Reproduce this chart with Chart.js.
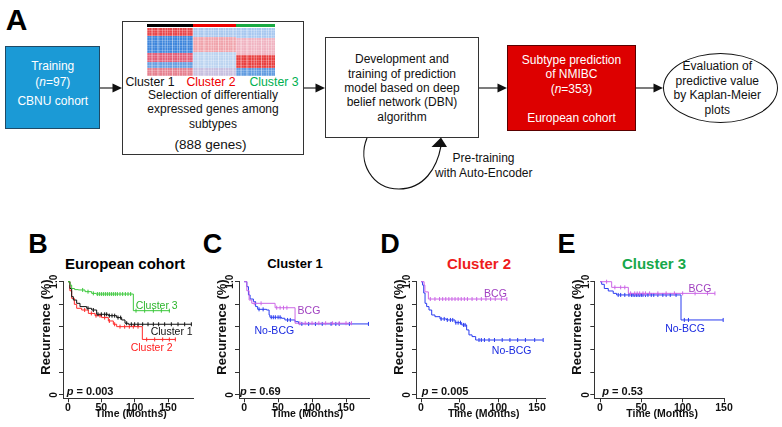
<!DOCTYPE html>
<html><head><meta charset="utf-8">
<script src="https://cdn.jsdelivr.net/npm/chart.js@4.4.1/dist/chart.umd.min.js"></script>
<style>
html,body{margin:0;padding:0;background:#fff}
#page{position:relative;width:782px;height:427px;overflow:hidden;font-family:"Liberation Sans",Arial,Helvetica,sans-serif;color:#111}
.t{position:absolute;white-space:nowrap;line-height:1;transform:translate(-50%,-50%)}
.tl{position:absolute;white-space:nowrap;line-height:1;transform:translate(0,-50%)}
.box{position:absolute;box-sizing:border-box}
canvas{position:absolute}
#svg{position:absolute;left:0;top:0}
</style></head><body><div id="page">
<div class="box" style="left:5px;top:46px;width:95px;height:83px;background:#1b9ad6;border:1px solid #1f4a66"></div>
<div class="box" style="left:122px;top:21px;width:182px;height:134px;border:1px solid #333;background:#fff"></div>
<div class="box" style="left:325px;top:37px;width:154px;height:101px;border:1px solid #333;background:#fff"></div>
<div class="box" style="left:507px;top:45px;width:129px;height:86px;background:#dd0000;border:1px solid #5a0000"></div>
<div class="box" style="left:663px;top:53px;width:115px;height:70px;border:1.5px solid #111;border-radius:50%;background:#fff"></div>
<svg id="svg" width="782" height="427"></svg>
<canvas id="cB"></canvas><canvas id="cC"></canvas><canvas id="cD"></canvas><canvas id="cE"></canvas>
</div>
<script>
const FONT = '"Liberation Sans", Arial, Helvetica, sans-serif';

// ---- shared axis definitions ----
const xTicks = [0, 50, 100, 150];
const yTicks = [0, 0.2, 0.4, 0.6, 0.8, 1.0];
const yLabelVals = [0, 1.0];
const yLabelText = ['0', '1.0'];
const yTitle = 'Recurrence (%)';
const xTitle = 'Time (Months)';

// ---- Panel B: European cohort ----
const bC1Time = [0, 2.8, 5.5, 8, 13, 18, 28, 35.5, 43, 60.5, 73, 80.5, 85.5, 90.5, 185.5];
const bC1Surv = [1, 0.94, 0.868, 0.838, 0.809, 0.78, 0.765, 0.75, 0.712, 0.70, 0.683, 0.662, 0.633, 0.624, 0.624];
const bC1Cens = [30, 38, 45, 50, 55, 58, 62, 66, 70, 75, 79, 88, 95, 100, 105, 112, 120, 128, 136, 145, 155, 165, 175, 185];
const bC2Time = [0, 2.8, 5.5, 9.5, 13, 20.5, 30.5, 40.5, 50.5, 60.5, 68, 73, 111.5, 161.5];
const bC2Surv = [1, 0.92, 0.853, 0.80, 0.765, 0.75, 0.72, 0.70, 0.683, 0.653, 0.624, 0.603, 0.49, 0.49];
const bC2Cens = [25, 35, 42, 48, 55, 62, 70, 78, 85, 92, 98, 105, 118, 130, 142, 152, 161];
const bC3Time = [0, 3, 5.5, 10, 15.5, 25.5, 35.5, 42, 98, 153];
const bC3Surv = [1, 0.97, 0.94, 0.93, 0.927, 0.912, 0.897, 0.891, 0.744, 0.744];
const bC3Cens = [22, 30, 38, 44, 47, 50, 53, 56, 59, 62, 65, 68, 71, 74, 78, 82, 86, 90, 94, 102, 115, 128, 140, 152];

// ---- Panel C: Cluster 1 ----
const cNoTime = [0, 4, 6.4, 8.8, 13.7, 17, 20, 33, 36.8, 38, 55, 60, 75, 80, 183];
const cNoSurv = [1, 0.956, 0.883, 0.847, 0.824, 0.78, 0.756, 0.75, 0.706, 0.686, 0.677, 0.662, 0.647, 0.627, 0.627];
const cNoCens = [22, 28, 40, 43, 46, 50, 53, 64, 68, 85, 95, 105, 115, 128, 135, 140, 155, 183];
const cBcgTime = [0, 4, 7.4, 11.3, 45.6, 75, 158];
const cBcgSurv = [1, 0.92, 0.838, 0.809, 0.77, 0.633, 0.633];
const cBcgCens = [15, 25, 48, 53, 58, 63, 82, 90, 100, 110, 120, 130, 140, 150, 158];

// ---- Panel D: Cluster 2 ----
const dNoTime = [0, 2, 3.5, 5.2, 7.3, 10.3, 13.8, 18, 24.6, 33, 44, 52.6, 59, 62, 66, 70.7, 158];
const dNoSurv = [1, 0.97, 0.9, 0.809, 0.78, 0.75, 0.706, 0.691, 0.671, 0.662, 0.638, 0.618, 0.574, 0.53, 0.515, 0.485, 0.485];
const dNoCens = [26, 30, 34, 38, 41, 45, 48, 51, 55, 57, 75, 78, 82, 88, 95, 105, 115, 125, 135, 147, 158];
const dBcgTime = [0, 4, 5, 9.5, 111];
const dBcgSurv = [1, 0.97, 0.91, 0.847, 0.847];
const dBcgCens = [12, 18, 24, 28, 32, 36, 40, 44, 48, 52, 56, 60, 66, 72, 78, 84, 90, 96, 104, 111];

// ---- Panel E: Cluster 3 ----
const eNoTime = [0, 2, 5.2, 10, 16, 20, 98, 149];
const eNoSurv = [1, 0.977, 0.94, 0.918, 0.897, 0.883, 0.662, 0.662];
const eNoCens = [22, 25, 30, 35, 38, 40, 42, 44, 46, 48, 50, 52, 55, 58, 62, 65, 70, 76, 80, 85, 92, 102, 107, 149];
const eBcgTime = [0, 14.1, 34.3, 139];
const eBcgSurv = [1, 0.95, 0.897, 0.897];
const eBcgCens = [8, 18, 25, 30, 37, 42, 45, 48, 52, 55, 60, 70, 80, 90, 100, 115, 130, 139];

// ---------------- helpers ----------------
const page = document.getElementById('page');
function T(x, y, html, css, left) {
  const d = document.createElement('div');
  d.className = left ? 'tl' : 't';
  d.style.left = x + 'px'; d.style.top = y + 'px';
  d.style.cssText += css || '';
  d.innerHTML = html;
  page.appendChild(d);
}
function kmPoints(t, s) { return t.map((x, i) => ({x: x, y: s[i]})); }
function survAt(t, s, c) { let v = s[0]; for (let i = 0; i < t.length; i++) if (t[i] <= c) v = s[i]; return v; }
function censPoints(t, s, c) { return c.map(x => ({x: x, y: survAt(t, s, x)})); }

// ---------------- diagram ----------------
const wht = 'color:#fff;font-size:12px;';
const blk = 'font-size:12px;color:#111;';
T(16.5, 19.5, 'A', 'font-size:30px;font-weight:bold;color:#000;');
T(52.8, 66, 'Training', wht);
T(52.8, 81.5, '(<i>n</i>=97)', wht);
T(52.8, 101, 'CBNU cohort', wht);

// heatmap thumbnail (decorative)
(function () {
  const tex = 'repeating-linear-gradient(90deg, rgba(255,255,255,.30) 0 1px, rgba(255,255,255,0) 1px 2px, rgba(255,255,255,.12) 2px 3px, rgba(255,255,255,0) 3px 5px),' +
              'repeating-linear-gradient(90deg, rgba(255,255,255,0) 0 4px, rgba(255,255,255,.25) 4px 5px, rgba(255,255,255,0) 5px 7px),' +
              'repeating-linear-gradient(0deg, rgba(255,255,255,.22) 0 1px, rgba(255,255,255,0) 1px 3px, rgba(255,255,255,.12) 3px 4px, rgba(255,255,255,0) 4px 5px),';
  const blocks = [
    [146.7, 46, '#000', 'linear-gradient(180deg,#e8464a 0 8px,#3f86dc 8px 25px,#e2607a 25px 34px,#6aa0e0 34px 40px,#e6808e 40px 48px)'],
    [193, 42.5, '#e00', 'linear-gradient(180deg,#a9c8ee 0 9px,#f0a4ac 9px 24px,#bcd4f0 24px 40px,#c8c0e0 40px 48px)'],
    [235.5, 39.5, '#1aaa44', 'linear-gradient(180deg,#a8c8f0 0 10px,#f0b4c2 10px 27px,#e84040 27px 40px,#629ce0 40px 48px)']
  ];
  blocks.forEach(b => {
    const bar = document.createElement('div');
    bar.className = 'box';
    bar.style.cssText += 'left:' + b[0] + 'px;top:24px;width:' + b[1] + 'px;height:2.6px;background:' + b[2];
    page.appendChild(bar);
    const hm = document.createElement('div');
    hm.className = 'box';
    hm.style.cssText += 'left:' + b[0] + 'px;top:27.7px;width:' + b[1] + 'px;height:48.3px;background:' + tex + b[3];
    page.appendChild(hm);
  });
})();
T(150, 82, 'Cluster 1', 'font-size:12.3px;color:#111;');
T(211, 82, 'Cluster 2', 'font-size:12.3px;color:#ee0000;');
T(274, 82, 'Cluster 3', 'font-size:12.3px;color:#00b050;');
T(213, 95.3, 'Selection of differentially', blk);
T(213, 109.3, 'expressed genes among', blk);
T(213, 123.5, 'subtypes', blk);
T(210.5, 144.5, '(888 genes)', 'font-size:13.5px;color:#111;');

T(402, 59, 'Development and', blk);
T(402, 73.5, 'training of prediction', blk);
T(402, 87.8, 'model based on deep', blk);
T(402, 102, 'belief network (DBN)', blk);
T(402, 116.8, 'algorithm', blk);

T(571.5, 59.5, 'Subtype prediction', wht);
T(571.5, 73.8, 'of NMIBC', wht);
T(571.5, 88.5, '(<i>n</i>=353)', wht);
T(571.5, 117.5, 'European cohort', wht);

T(717.3, 66, 'Evaluation of', blk);
T(717.3, 80.5, 'predictive value', blk);
T(717.3, 95, 'by Kaplan-Meier', blk);
T(717.3, 109.5, 'plots', blk);

T(483.5, 157.8, 'Pre-training', blk);
T(483.8, 172.5, 'with Auto-Encoder', blk);

(function () {
  const svg = document.getElementById('svg');
  const arrows = [[100, 122], [304, 325], [479, 507], [636, 663]];
  let s = '';
  arrows.forEach(a => {
    s += '<line x1="' + a[0] + '" y1="88" x2="' + (a[1] - 8) + '" y2="88" stroke="#111" stroke-width="1.1"/>';
    s += '<polygon points="' + a[1] + ',88 ' + (a[1] - 9.5) + ',83.5 ' + (a[1] - 9.5) + ',92.5" fill="#111"/>';
  });
  s += '<path d="M367,138 C357,162 372,189 399,189 C424,189 437,168 441,146" fill="none" stroke="#111" stroke-width="1.2"/>';
  s += '<polygon points="441,137.5 431.5,147 447,147" fill="#111"/>';
  svg.innerHTML = s;
})();

// ---------------- KM panels ----------------
const GREEN = '#3cc83c', RED = '#ff2a2a', BLACK = '#111', BLUE = '#2a3cf0', VIOLET = '#cc66e6';

const axisText = {
  id: 'axisText',
  afterDraw(chart, args, o) {
    const ctx = chart.ctx, ca = chart.chartArea, y = chart.scales.y;
    ctx.save();
    ctx.textAlign = 'center';
    ctx.textBaseline = 'middle';
    ctx.fillStyle = '#111';
    ctx.font = 'bold 10px ' + FONT;
    for (let i = 0; i < yLabelVals.length; i++) {
      const py = y.getPixelForValue(yLabelVals[i]);
      ctx.save();
      ctx.translate(ca.left - 8.5, py);
      ctx.rotate(-Math.PI / 2);
      ctx.fillText(yLabelText[i], 0, 0);
      ctx.restore();
    }
    ctx.font = 'bold 13px ' + FONT;
    ctx.save();
    ctx.translate(ca.left - 17, o.yTitleY);
    ctx.rotate(-Math.PI / 2);
    ctx.fillText(yTitle, 0, 0);
    ctx.restore();
    ctx.font = 'bold 10.5px ' + FONT;
    ctx.fillText(xTitle, (ca.left + ca.right) / 2 + 3, o.xTitleY);
    ctx.restore();
  }
};

function km(id, rect, plot, xMin, xMax, series) {
  const cv = document.getElementById(id);
  cv.style.left = rect.l + 'px'; cv.style.top = rect.t + 'px';
  cv.width = rect.w; cv.height = rect.h;
  cv.style.width = rect.w + 'px'; cv.style.height = rect.h + 'px';
  const ds = [];
  series.forEach(s => {
    ds.push({type: 'line', data: kmPoints(s.t, s.s), borderColor: s.color, borderWidth: 1, pointRadius: 0,
             stepped: 'before', fill: false, clip: false, tension: 0});
    ds.push({type: 'scatter', data: censPoints(s.t, s.s, s.c), borderColor: s.color, backgroundColor: s.color,
             pointStyle: 'line', rotation: 90, pointRadius: 2, borderWidth: 1, clip: false});
  });
  const gridOpt = {display: true, drawOnChartArea: false, drawTicks: true, tickLength: 4, color: '#333', lineWidth: 1};
  new Chart(cv, {
    type: 'line',
    data: {datasets: ds},
    options: {
      responsive: false, animation: false, devicePixelRatio: 1,
      events: [],
      layout: {padding: {left: 0, top: plot.t - rect.t, right: rect.l + rect.w - plot.r, bottom: 0}},
      plugins: {legend: {display: false}, tooltip: {enabled: false},
                axisText: {yTitleY: 327 - rect.t, xTitleY: 414 - rect.t}},
      scales: {
        x: {type: 'linear', min: xMin, max: xMax,
            afterBuildTicks: s => { s.ticks = xTicks.map(v => ({value: v})); },
            afterFit: s => { s.height = rect.t + rect.h - plot.b; },
            grid: gridOpt, border: {display: true, color: '#333', width: 1},
            ticks: {padding: 0, color: '#111', autoSkip: false, maxRotation: 0, minRotation: 0,
                    font: {family: FONT, size: 10.5, weight: 'bold'}}},
        y: {type: 'linear', min: -0.03, max: 1,
            afterBuildTicks: s => { s.ticks = yTicks.map(v => ({value: v})); },
            afterFit: s => { s.width = plot.l - rect.l; },
            grid: gridOpt, border: {display: true, color: '#333', width: 1},
            ticks: {display: false}}
      }
    },
    plugins: [axisText]
  });
}

km('cB', {l: 22, t: 272, w: 180, h: 155}, {l: 63, r: 193, t: 281.7, b: 398.3}, -7.5, 187.5, [
  {t: bC3Time, s: bC3Surv, c: bC3Cens, color: GREEN},
  {t: bC1Time, s: bC1Surv, c: bC1Cens, color: BLACK},
  {t: bC2Time, s: bC2Surv, c: bC2Cens, color: RED}
]);
km('cC', {l: 205, t: 272, w: 178, h: 155}, {l: 239, r: 369.8, t: 281.7, b: 398.3}, -7.5, 185, [
  {t: cBcgTime, s: cBcgSurv, c: cBcgCens, color: VIOLET},
  {t: cNoTime, s: cNoSurv, c: cNoCens, color: BLUE}
]);
km('cD', {l: 385, t: 272, w: 175, h: 155}, {l: 416, r: 545.5, t: 281.7, b: 398.3}, -6.5, 161, [
  {t: dBcgTime, s: dBcgSurv, c: dBcgCens, color: VIOLET},
  {t: dNoTime, s: dNoSurv, c: dNoCens, color: BLUE}
]);
km('cE', {l: 562, t: 272, w: 200, h: 155}, {l: 594.3, r: 724, t: 281.7, b: 398.3}, -6.9, 150, [
  {t: eBcgTime, s: eBcgSurv, c: eBcgCens, color: VIOLET},
  {t: eNoTime, s: eNoSurv, c: eNoCens, color: BLUE}
]);

// panel letters, titles, curve labels, p values
const L = 'font-size:27px;font-weight:bold;color:#000;';
T(38, 243.7, 'B', L); T(212.5, 243.7, 'C', L); T(390, 243.7, 'D', L); T(566.5, 243.7, 'E', L);
T(125, 263, 'European cohort', 'font-size:15px;font-weight:bold;color:#000;');
T(295, 263, 'Cluster 1', 'font-size:13px;font-weight:bold;color:#000;');
T(479, 263, 'Cluster 2', 'font-size:15px;font-weight:bold;color:#ee1c1c;');
T(654, 263, 'Cluster 3', 'font-size:15px;font-weight:bold;color:#16a84a;');
const cl = 'font-size:10.5px;';
T(156.7, 305, 'Cluster 3', cl + 'color:#2db52d;');
T(171.7, 330.5, 'Cluster 1', cl + 'color:#111;');
T(151.7, 346.7, 'Cluster 2', cl + 'color:#ff2020;');
T(309, 310, 'BCG', cl + 'color:#a040c0;');
T(274.3, 330, 'No-BCG', cl + 'color:#1a2ae0;');
T(495.5, 293, 'BCG', cl + 'color:#a040c0;');
T(511.7, 350, 'No-BCG', cl + 'color:#1a2ae0;');
T(700, 288, 'BCG', cl + 'color:#a040c0;');
T(685, 328, 'No-BCG', cl + 'color:#1a2ae0;');
const pv = 'font-size:11px;font-weight:bold;color:#111;';
T(66.7, 391, '<i>p</i> = 0.003', pv, true);
T(240, 391, '<i>p</i> = 0.69', pv, true);
T(421.7, 391, '<i>p</i> = 0.005', pv, true);
T(602.3, 391, '<i>p</i> = 0.53', pv, true);
</script>
</body></html>
